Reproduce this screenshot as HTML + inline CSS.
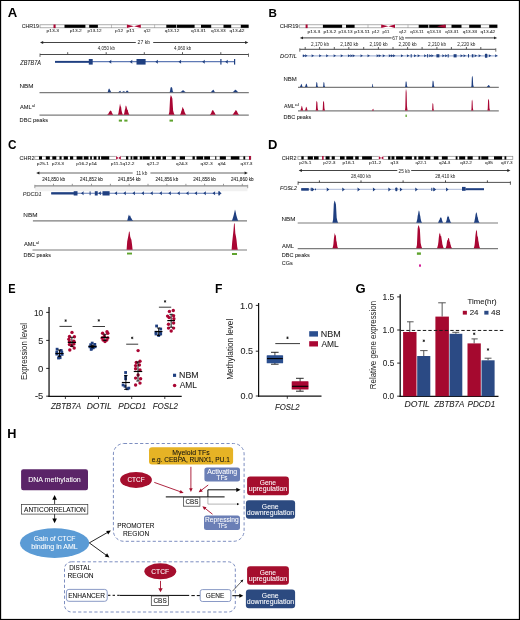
<!DOCTYPE html>
<html><head><meta charset="utf-8"><title>Figure</title>
<style>
html,body{margin:0;padding:0;background:#fff;}
body{width:520px;height:620px;overflow:hidden;font-family:"Liberation Sans",sans-serif;}
svg{display:block;will-change:transform;}
</style></head><body>
<svg width="520" height="620" viewBox="0 0 520 620" font-family="Liberation Sans, sans-serif">
<rect x="0" y="0" width="520" height="620" fill="#fff" />
<text x="7.67" y="17.3" font-size="12.61" font-weight="bold" textLength="9.49" lengthAdjust="spacingAndGlyphs" >A</text>
<text x="21.63" y="28.1" font-size="5.6" fill="#222" textLength="17.4" lengthAdjust="spacingAndGlyphs"  stroke="#222" stroke-width="0.07">CHR19</text>
<rect x="40" y="24.8" width="208.5" height="3" fill="#fff" stroke="#8a8a8a" stroke-width="0.7"/>
<rect x="64.5" y="24.8" width="20.9" height="3" fill="#000" />
<rect x="89.2" y="24.8" width="8.7" height="3" fill="#000" />
<rect x="166.3" y="24.8" width="9.7" height="3" fill="#000" />
<rect x="176.7" y="24.8" width="17.9" height="3" fill="#000" />
<rect x="201" y="24.8" width="10.2" height="3" fill="#000" />
<rect x="223.5" y="24.8" width="7.7" height="3" fill="#000" />
<rect x="240.8" y="24.8" width="7.7" height="3" fill="#000" />
<rect x="53.5" y="24.5" width="2.1" height="3.6" fill="#a90633" />
<line x1="111.5" y1="24.8" x2="111.5" y2="27.8" stroke="#666" stroke-width="0.4" />
<line x1="154.6" y1="24.8" x2="154.6" y2="27.8" stroke="#666" stroke-width="0.4" />
<rect x="126.6" y="24.6" width="14.5" height="3.4" fill="#fff" />
<polygon points="126.9,24.6 134,26.3 126.9,28" fill="#a90633" />
<polygon points="140.8,24.6 134,26.3 140.8,28" fill="#a90633" />
<text x="46.58" y="32.2" font-size="4.4" fill="#333" textLength="12.43" lengthAdjust="spacingAndGlyphs" stroke="#333" stroke-width="0.08">p13.3</text>
<text x="69.69" y="32.2" font-size="4.4" fill="#333" textLength="12.07" lengthAdjust="spacingAndGlyphs" stroke="#333" stroke-width="0.08">p13.2</text>
<text x="87.6" y="32.2" font-size="4.4" fill="#333" textLength="13.92" lengthAdjust="spacingAndGlyphs" stroke="#333" stroke-width="0.08">p13.12</text>
<text x="115.09" y="32.2" font-size="4.4" fill="#333" textLength="8.07" lengthAdjust="spacingAndGlyphs" stroke="#333" stroke-width="0.08">p12</text>
<text x="126.57" y="32.2" font-size="4.4" fill="#333" textLength="8.05" lengthAdjust="spacingAndGlyphs" stroke="#333" stroke-width="0.08">p11</text>
<text x="143.84" y="32.2" font-size="4.4" fill="#333" textLength="6.78" lengthAdjust="spacingAndGlyphs" stroke="#333" stroke-width="0.08">q12</text>
<text x="164.81" y="32.2" font-size="4.4" fill="#333" textLength="14.62" lengthAdjust="spacingAndGlyphs" stroke="#333" stroke-width="0.08">q13.12</text>
<text x="191.11" y="32.2" font-size="4.4" fill="#333" textLength="14.91" lengthAdjust="spacingAndGlyphs" stroke="#333" stroke-width="0.08">q13.31</text>
<text x="211.01" y="32.2" font-size="4.4" fill="#333" textLength="14.57" lengthAdjust="spacingAndGlyphs" stroke="#333" stroke-width="0.08">q13.33</text>
<text x="229.61" y="32.2" font-size="4.4" fill="#333" textLength="14.83" lengthAdjust="spacingAndGlyphs" stroke="#333" stroke-width="0.08">q13.42</text>
<line x1="42.5" y1="42.5" x2="135.8" y2="42.5" stroke="#222" stroke-width="0.85" />
<line x1="153.2" y1="42.5" x2="245.8" y2="42.5" stroke="#222" stroke-width="0.85" />
<polygon points="40,42.5 43.2,41.1 43.2,43.9" fill="#222" />
<polygon points="248.3,42.5 245.1,41.1 245.1,43.9" fill="#222" />
<text x="137.64" y="44.3" font-size="4.8" fill="#222" textLength="12.57" lengthAdjust="spacingAndGlyphs" >27 kb</text>
<line x1="40" y1="54.5" x2="248.5" y2="54.5" stroke="#4a4a4a" stroke-width="1" />
<line x1="40" y1="53.5" x2="40" y2="56.9" stroke="#4a4a4a" stroke-width="0.8" />
<line x1="248.5" y1="53.5" x2="248.5" y2="56.9" stroke="#4a4a4a" stroke-width="0.8" />
<line x1="67.7" y1="52.2" x2="67.7" y2="54.5" stroke="#4a4a4a" stroke-width="0.9" />
<line x1="106.2" y1="52.2" x2="106.2" y2="54.5" stroke="#4a4a4a" stroke-width="0.9" />
<line x1="144.3" y1="52.2" x2="144.3" y2="54.5" stroke="#4a4a4a" stroke-width="0.9" />
<line x1="182.5" y1="52.2" x2="182.5" y2="54.5" stroke="#4a4a4a" stroke-width="0.9" />
<line x1="220.8" y1="52.2" x2="220.8" y2="54.5" stroke="#4a4a4a" stroke-width="0.9" />
<text x="97.66" y="50.3" font-size="4.7" fill="#222" textLength="17.28" lengthAdjust="spacingAndGlyphs" >4,050 kb</text>
<text x="174.01" y="50.3" font-size="4.7" fill="#222" textLength="17.28" lengthAdjust="spacingAndGlyphs" >4,060 kb</text>
<text x="20.31" y="64.8" font-size="6.5" fill="#222" font-style="italic" textLength="20.59" lengthAdjust="spacingAndGlyphs"  stroke="#222" stroke-width="0.07">ZBTB7A</text>
<line x1="55" y1="61.6" x2="234.8" y2="61.6" stroke="#5f7ab5" stroke-width="1.15" />
<rect x="55" y="60.9" width="34" height="1.9" fill="#1f3f80" />
<rect x="88.8" y="59" width="3.9" height="5.6" fill="#1f3f80" />
<rect x="136.5" y="59" width="9.1" height="5.6" fill="#1f3f80" />
<rect x="220.3" y="59" width="1.2" height="5.6" fill="#1f3f80" />
<rect x="234" y="59" width="1.2" height="5.6" fill="#1f3f80" />
<polygon points="108.65,61.8 111.35,59.8 111.15,61.8 111.35,63.8" fill="#1f3f80" />
<polygon points="129.65,61.8 132.35,59.8 132.15,61.8 132.35,63.8" fill="#1f3f80" />
<polygon points="155.25,61.8 157.95,59.8 157.75,61.8 157.95,63.8" fill="#1f3f80" />
<polygon points="178.45,61.8 181.15,59.8 180.95,61.8 181.15,63.8" fill="#1f3f80" />
<polygon points="202.15,61.8 204.85,59.8 204.65,61.8 204.85,63.8" fill="#1f3f80" />
<polygon points="225.15,61.8 227.85,59.8 227.65,61.8 227.85,63.8" fill="#1f3f80" />
<text x="19.5" y="87.5" font-size="6.1" fill="#222" textLength="14.02" lengthAdjust="spacingAndGlyphs"  stroke="#222" stroke-width="0.07">NBM</text>
<line x1="39.5" y1="92.6" x2="248.8" y2="92.6" stroke="#7c7c7c" stroke-width="1.2" />
<polygon points="107.3,92.3 107.3,92.3 107.65,91.96 108,91.22 108.35,89.81 108.7,89.09 109.05,88.6 109.4,88.69 109.75,89.58 110.1,89.94 110.45,90.73 110.8,91.52 111.15,92.09 111.5,92.3 111.5,92.3" fill="#1f3f80" />
<polygon points="118,92.3 118,92.3 118.35,92.1 118.7,91.92 119.05,91.48 119.4,91.16 119.75,91.19 120.1,90.8 120.45,91.11 120.8,91.64 121.15,92 121.5,92.3 121.5,92.3" fill="#1f3f80" />
<polygon points="121.5,92.3 121.5,92.3 121.86,92.14 122.23,92 122.59,91.7 122.95,91.56 123.32,91.31 123.68,91.2 124.05,91.36 124.41,91.47 124.77,91.8 125.14,92.03 125.5,92.3 125.5,92.3" fill="#1f3f80" />
<polygon points="125.2,92.3 125.2,92.3 125.56,92.02 125.92,91.69 126.28,91.31 126.64,90.8 127,90.6 127.36,90.69 127.72,90.7 128.08,91.33 128.44,91.87 128.8,92.3 128.8,92.3" fill="#1f3f80" />
<polygon points="169.4,92.3 169.4,92.3 169.96,91.56 170.53,87.8 171.09,87 171.65,87.37 172.21,87.95 172.78,91.13 173.34,91.88 173.9,92.3 173.9,92.3" fill="#1f3f80" />
<polygon points="179.8,92.3 179.8,92.3 180.15,92.08 180.51,91.98 180.86,91.82 181.21,91.6 181.56,91.43 181.92,90.9 182.27,90.81 182.62,90.37 182.98,90.52 183.33,90.2 183.68,90.43 184.04,91.11 184.39,91.32 184.74,91.45 185.09,91.83 185.45,91.98 185.8,92.3 185.8,92.3" fill="#1f3f80" />
<polygon points="210.6,92.3 210.6,92.3 210.95,91.99 211.31,91.79 211.66,91.29 212.02,90.75 212.37,90.55 212.72,90.33 213.08,89.98 213.43,89.6 213.78,90.18 214.14,91.07 214.49,91.52 214.85,91.92 215.2,92.3 215.2,92.3" fill="#1f3f80" />
<polygon points="232.4,92.3 232.4,92.3 232.76,92.05 233.12,91.75 233.49,91.6 233.85,91.14 234.21,90.8 234.57,90.56 234.94,89.85 235.3,90.08 235.66,89.6 236.03,90.16 236.39,90.26 236.75,90.82 237.11,91.25 237.47,91.49 237.84,91.87 238.2,92.3 238.2,92.3" fill="#1f3f80" />
<text x="20.05" y="109.03" font-size="6.1" fill="#222" textLength="11.63" lengthAdjust="spacingAndGlyphs"  stroke="#222" stroke-width="0.07">AML</text>
<text x="31.71" y="107.4" font-size="3.3" fill="#222" textLength="3.6" lengthAdjust="spacingAndGlyphs" >al</text>
<line x1="39.5" y1="115.1" x2="248.8" y2="115.1" stroke="#7c7c7c" stroke-width="1.2" />
<polygon points="107.3,114.8 107.3,114.8 107.67,114.34 108.04,113.87 108.41,113.63 108.78,112.99 109.14,111.99 109.51,111.47 109.88,111.52 110.25,110 110.62,110.93 110.99,111.08 111.36,111.03 111.72,112.26 112.09,113.06 112.46,113.8 112.83,114.23 113.2,114.8 113.2,114.8" fill="#a90633" />
<polygon points="117.8,114.8 117.8,114.8 118.17,114.04 118.54,112.87 118.91,110.23 119.29,107.97 119.66,105.83 120.03,103.6 120.4,105.56 120.77,106.4 121.14,107.23 121.51,110.34 121.89,112.12 122.26,113.18 122.63,114.23 123,114.8 123,114.8" fill="#a90633" />
<polygon points="123.4,114.8 123.4,114.8 123.76,114.33 124.13,113.63 124.49,111.93 124.86,109.66 125.22,109.04 125.59,105.91 125.95,105.4 126.32,106.28 126.68,107.34 127.05,108.86 127.41,109.9 127.78,109.67 128.14,111.98 128.51,112.87 128.87,113.98 129.24,114.4 129.6,114.8 129.6,114.8" fill="#a90633" />
<polygon points="168.6,114.8 168.6,114.8 169.35,112.03 170.1,97.97 170.85,95 171.6,96.39 172.35,98.56 173.1,110.44 173.85,113.22 174.6,114.8 174.6,114.8" fill="#a90633" />
<polygon points="179.8,114.8 179.8,114.8 180.17,114.38 180.53,113.87 180.9,113 181.27,111.16 181.63,110.56 182,109.16 182.37,107.78 182.73,107 183.1,107.87 183.47,109.13 183.83,108.72 184.2,110.75 184.57,111.91 184.93,112.65 185.3,113.46 185.67,114.21 186.03,114.54 186.4,114.8 186.4,114.8" fill="#a90633" />
<polygon points="209.8,114.8 209.8,114.8 210.17,114.29 210.54,113.88 210.91,113.56 211.28,112.85 211.64,111.7 212.01,110.8 212.38,110.5 212.75,110 213.12,110.03 213.49,110.92 213.86,111.59 214.22,112.33 214.59,112.5 214.96,113.45 215.33,113.98 215.7,114.8 215.7,114.8" fill="#a90633" />
<polygon points="232.3,114.8 232.3,114.8 232.67,114.41 233.03,114.03 233.4,113.69 233.77,113.09 234.13,112.77 234.5,111.62 234.87,111.94 235.23,110.94 235.6,110.35 235.97,110 236.33,110.39 236.7,110.89 237.07,111.48 237.43,112.18 237.8,113.27 238.17,113.71 238.53,114.11 238.9,114.8 238.9,114.8" fill="#a90633" />
<text x="19.55" y="121.9" font-size="6.1" fill="#222" textLength="28.64" lengthAdjust="spacingAndGlyphs"  stroke="#222" stroke-width="0.07">DBC peaks</text>
<rect x="118.8" y="119.6" width="3.2" height="2" fill="#5ea32d" />
<rect x="124.3" y="119.6" width="3.2" height="2" fill="#5ea32d" />
<rect x="169.5" y="119.6" width="3.5" height="2" fill="#5ea32d" />
<text x="268.54" y="16.9" font-size="11.74" font-weight="bold" textLength="8.41" lengthAdjust="spacingAndGlyphs" >B</text>
<text x="279.71" y="28.1" font-size="5.6" fill="#222" textLength="18.84" lengthAdjust="spacingAndGlyphs"  stroke="#222" stroke-width="0.07">CHR19</text>
<rect x="299.2" y="24.8" width="198" height="3" fill="#fff" stroke="#8a8a8a" stroke-width="0.7"/>
<rect x="322.9" y="24.8" width="19.2" height="3" fill="#000" />
<rect x="346" y="24.8" width="8.6" height="3" fill="#000" />
<rect x="418.7" y="24.8" width="9.6" height="3" fill="#000" />
<rect x="429.2" y="24.8" width="16.4" height="3" fill="#000" />
<rect x="451.5" y="24.8" width="10" height="3" fill="#000" />
<rect x="469.2" y="24.8" width="11.6" height="3" fill="#000" />
<rect x="489.2" y="24.8" width="8" height="3" fill="#000" />
<rect x="305.6" y="24.5" width="2" height="3.6" fill="#a90633" />
<line x1="368" y1="24.8" x2="368" y2="27.8" stroke="#666" stroke-width="0.4" />
<line x1="408" y1="24.8" x2="408" y2="27.8" stroke="#666" stroke-width="0.4" />
<rect x="380.9" y="24.6" width="14.4" height="3.4" fill="#fff" />
<polygon points="381.2,24.6 388.4,26.3 381.2,28" fill="#a90633" />
<polygon points="395,24.6 388.4,26.3 395,28" fill="#a90633" />
<polygon points="445.6,24.6 437,26.3 445.6,28" fill="#a90633" />
<text x="307.57" y="32.6" font-size="4.4" fill="#333" textLength="12.64" lengthAdjust="spacingAndGlyphs" stroke="#333" stroke-width="0.08">p13.3</text>
<text x="323.47" y="32.6" font-size="4.4" fill="#333" textLength="12.8" lengthAdjust="spacingAndGlyphs" stroke="#333" stroke-width="0.08">p13.2</text>
<text x="338.5" y="32.6" font-size="4.4" fill="#333" textLength="13.97" lengthAdjust="spacingAndGlyphs" stroke="#333" stroke-width="0.08">p13.13</text>
<text x="354.26" y="32.6" font-size="4.4" fill="#333" textLength="15.78" lengthAdjust="spacingAndGlyphs" stroke="#333" stroke-width="0.08">p13.11</text>
<text x="372.22" y="32.6" font-size="4.4" fill="#333" textLength="7.21" lengthAdjust="spacingAndGlyphs" stroke="#333" stroke-width="0.08">p12</text>
<text x="382.42" y="32.6" font-size="4.4" fill="#333" textLength="6.98" lengthAdjust="spacingAndGlyphs" stroke="#333" stroke-width="0.08">p11</text>
<text x="399.23" y="32.6" font-size="4.4" fill="#333" textLength="7.2" lengthAdjust="spacingAndGlyphs" stroke="#333" stroke-width="0.08">q12</text>
<text x="410.22" y="32.6" font-size="4.4" fill="#333" textLength="13.48" lengthAdjust="spacingAndGlyphs" stroke="#333" stroke-width="0.08">q13.11</text>
<text x="427.12" y="32.6" font-size="4.4" fill="#333" textLength="13.86" lengthAdjust="spacingAndGlyphs" stroke="#333" stroke-width="0.08">q13.13</text>
<text x="445.22" y="32.6" font-size="4.4" fill="#333" textLength="13.47" lengthAdjust="spacingAndGlyphs" stroke="#333" stroke-width="0.08">q13.31</text>
<text x="462.81" y="32.6" font-size="4.4" fill="#333" textLength="14.37" lengthAdjust="spacingAndGlyphs" stroke="#333" stroke-width="0.08">q13.33</text>
<text x="480.61" y="32.6" font-size="4.4" fill="#333" textLength="14.62" lengthAdjust="spacingAndGlyphs" stroke="#333" stroke-width="0.08">q13.42</text>
<line x1="302.3" y1="37.9" x2="391.6" y2="37.9" stroke="#222" stroke-width="0.85" />
<line x1="405.1" y1="37.9" x2="494.7" y2="37.9" stroke="#222" stroke-width="0.85" />
<polygon points="299.8,37.9 303,36.5 303,39.3" fill="#222" />
<polygon points="497.2,37.9 494,36.5 494,39.3" fill="#222" />
<text x="392.36" y="39.6" font-size="4.7" fill="#222" textLength="11.95" lengthAdjust="spacingAndGlyphs" >67 kb</text>
<line x1="299.8" y1="49.3" x2="495.8" y2="49.3" stroke="#4a4a4a" stroke-width="1" />
<line x1="299.8" y1="48.3" x2="299.8" y2="51.7" stroke="#4a4a4a" stroke-width="0.8" />
<line x1="495.8" y1="48.3" x2="495.8" y2="51.7" stroke="#4a4a4a" stroke-width="0.8" />
<line x1="305.2" y1="47" x2="305.2" y2="49.3" stroke="#4a4a4a" stroke-width="0.9" />
<line x1="319.6" y1="47" x2="319.6" y2="49.3" stroke="#4a4a4a" stroke-width="0.9" />
<line x1="334.3" y1="47" x2="334.3" y2="49.3" stroke="#4a4a4a" stroke-width="0.9" />
<line x1="348.8" y1="47" x2="348.8" y2="49.3" stroke="#4a4a4a" stroke-width="0.9" />
<line x1="363.7" y1="47" x2="363.7" y2="49.3" stroke="#4a4a4a" stroke-width="0.9" />
<line x1="378.4" y1="47" x2="378.4" y2="49.3" stroke="#4a4a4a" stroke-width="0.9" />
<line x1="393" y1="47" x2="393" y2="49.3" stroke="#4a4a4a" stroke-width="0.9" />
<line x1="407.6" y1="47" x2="407.6" y2="49.3" stroke="#4a4a4a" stroke-width="0.9" />
<line x1="422.1" y1="47" x2="422.1" y2="49.3" stroke="#4a4a4a" stroke-width="0.9" />
<line x1="436.9" y1="47" x2="436.9" y2="49.3" stroke="#4a4a4a" stroke-width="0.9" />
<line x1="451.4" y1="47" x2="451.4" y2="49.3" stroke="#4a4a4a" stroke-width="0.9" />
<line x1="466.4" y1="47" x2="466.4" y2="49.3" stroke="#4a4a4a" stroke-width="0.9" />
<line x1="480.8" y1="47" x2="480.8" y2="49.3" stroke="#4a4a4a" stroke-width="0.9" />
<text x="310.97" y="45.7" font-size="4.9" fill="#222" textLength="18.03" lengthAdjust="spacingAndGlyphs" >2,170 kb</text>
<text x="340.37" y="45.7" font-size="4.9" fill="#222" textLength="18.03" lengthAdjust="spacingAndGlyphs" >2,180 kb</text>
<text x="369.57" y="45.7" font-size="4.9" fill="#222" textLength="18.03" lengthAdjust="spacingAndGlyphs" >2,190 kb</text>
<text x="398.57" y="45.7" font-size="4.9" fill="#222" textLength="18.03" lengthAdjust="spacingAndGlyphs" >2,200 kb</text>
<text x="427.97" y="45.7" font-size="4.9" fill="#222" textLength="18.03" lengthAdjust="spacingAndGlyphs" >2,210 kb</text>
<text x="457.37" y="45.7" font-size="4.9" fill="#222" textLength="18.03" lengthAdjust="spacingAndGlyphs" >2,220 kb</text>
<text x="280.03" y="57.8" font-size="6.1" fill="#222" font-style="italic" textLength="16.87" lengthAdjust="spacingAndGlyphs"  stroke="#222" stroke-width="0.07">DOTIL</text>
<line x1="302" y1="55.8" x2="497.7" y2="55.8" stroke="#a3b3d6" stroke-width="1.3" />
<polygon points="305.35,55.8 302.85,54.35 303.05,55.8 302.85,57.25" fill="#1f3f80" />
<polygon points="307.55,55.8 305.05,54.35 305.25,55.8 305.05,57.25" fill="#1f3f80" />
<polygon points="314.05,55.8 311.55,54.35 311.75,55.8 311.55,57.25" fill="#1f3f80" />
<polygon points="321.55,55.8 319.05,54.35 319.25,55.8 319.05,57.25" fill="#1f3f80" />
<polygon points="328.55,55.8 326.05,54.35 326.25,55.8 326.05,57.25" fill="#1f3f80" />
<polygon points="336.05,55.8 333.55,54.35 333.75,55.8 333.55,57.25" fill="#1f3f80" />
<polygon points="343.15,55.8 340.65,54.35 340.85,55.8 340.65,57.25" fill="#1f3f80" />
<polygon points="350.35,55.8 347.85,54.35 348.05,55.8 347.85,57.25" fill="#1f3f80" />
<polygon points="352.85,55.8 350.35,54.35 350.55,55.8 350.35,57.25" fill="#1f3f80" />
<polygon points="355.05,55.8 352.55,54.35 352.75,55.8 352.55,57.25" fill="#1f3f80" />
<polygon points="362.95,55.8 360.45,54.35 360.65,55.8 360.45,57.25" fill="#1f3f80" />
<polygon points="369.95,55.8 367.45,54.35 367.65,55.8 367.45,57.25" fill="#1f3f80" />
<polygon points="379.05,55.8 376.55,54.35 376.75,55.8 376.55,57.25" fill="#1f3f80" />
<polygon points="381.15,55.8 378.65,54.35 378.85,55.8 378.65,57.25" fill="#1f3f80" />
<polygon points="385.15,55.8 382.65,54.35 382.85,55.8 382.65,57.25" fill="#1f3f80" />
<polygon points="391.25,55.8 388.75,54.35 388.95,55.8 388.75,57.25" fill="#1f3f80" />
<polygon points="393.35,55.8 390.85,54.35 391.05,55.8 390.85,57.25" fill="#1f3f80" />
<polygon points="395.45,55.8 392.95,54.35 393.15,55.8 392.95,57.25" fill="#1f3f80" />
<polygon points="403.35,55.8 400.85,54.35 401.05,55.8 400.85,57.25" fill="#1f3f80" />
<polygon points="409.35,55.8 406.85,54.35 407.05,55.8 406.85,57.25" fill="#1f3f80" />
<polygon points="416.45,55.8 413.95,54.35 414.15,55.8 413.95,57.25" fill="#1f3f80" />
<polygon points="420.05,55.8 417.55,54.35 417.75,55.8 417.55,57.25" fill="#1f3f80" />
<polygon points="426.55,55.8 424.05,54.35 424.25,55.8 424.05,57.25" fill="#1f3f80" />
<polygon points="431.65,55.8 429.15,54.35 429.35,55.8 429.15,57.25" fill="#1f3f80" />
<polygon points="433.75,55.8 431.25,54.35 431.45,55.8 431.25,57.25" fill="#1f3f80" />
<polygon points="444.75,55.8 442.25,54.35 442.45,55.8 442.25,57.25" fill="#1f3f80" />
<polygon points="447.55,55.8 445.05,54.35 445.25,55.8 445.05,57.25" fill="#1f3f80" />
<polygon points="462.95,55.8 460.45,54.35 460.65,55.8 460.45,57.25" fill="#1f3f80" />
<polygon points="465.95,55.8 463.45,54.35 463.65,55.8 463.45,57.25" fill="#1f3f80" />
<polygon points="477.05,55.8 474.55,54.35 474.75,55.8 474.55,57.25" fill="#1f3f80" />
<polygon points="481.05,55.8 478.55,54.35 478.75,55.8 478.55,57.25" fill="#1f3f80" />
<polygon points="491.25,55.8 488.75,54.35 488.95,55.8 488.75,57.25" fill="#1f3f80" />
<polygon points="497.55,55.8 495.05,54.35 495.25,55.8 495.05,57.25" fill="#1f3f80" />
<rect x="410.7" y="54.1" width="1" height="3.4" fill="#1f3f80" />
<rect x="427.1" y="54.1" width="1" height="3.4" fill="#1f3f80" />
<rect x="447.7" y="54.1" width="1" height="3.4" fill="#1f3f80" />
<rect x="468" y="54.1" width="1" height="3.4" fill="#1f3f80" />
<rect x="436.4" y="54.2" width="3" height="3.2" fill="#1f3f80" />
<rect x="453.6" y="54.2" width="3" height="3.2" fill="#1f3f80" />
<rect x="471.8" y="54.2" width="1.6" height="3.2" fill="#1f3f80" />
<rect x="484.9" y="53.8" width="2.5" height="4" fill="#1f3f80" rx="0.6"/>
<text x="283.52" y="80.8" font-size="6.1" fill="#222" textLength="13.27" lengthAdjust="spacingAndGlyphs"  stroke="#222" stroke-width="0.07">NBM</text>
<line x1="298" y1="87.3" x2="498.8" y2="87.3" stroke="#7c7c7c" stroke-width="1.2" />
<polygon points="299.9,87 299.9,87 300.29,86.27 300.67,85.48 301.06,84.2 301.44,83.7 301.83,84.76 302.21,86.03 302.6,87 302.6,87" fill="#1f3f80" />
<polygon points="304.9,87 304.9,87 305.29,86.21 305.67,85.01 306.06,83.7 306.44,83.82 306.83,84.16 307.21,85.65 307.6,87 307.6,87" fill="#1f3f80" />
<polygon points="315.7,87 315.7,87 316.01,86.3 316.32,82.75 316.64,82 316.95,82.35 317.26,82.9 317.57,85.9 317.89,86.6 318.2,87 318.2,87" fill="#1f3f80" />
<polygon points="322.9,87 322.9,87 323.19,86.3 323.47,82.75 323.76,82 324.05,82.35 324.34,82.9 324.62,85.9 324.91,86.6 325.2,87 325.2,87" fill="#1f3f80" />
<polygon points="371.9,87 371.9,87 372.09,86.55 372.27,84.28 372.46,83.8 372.65,84.02 372.84,84.38 373.02,86.3 373.21,86.74 373.4,87 373.4,87" fill="#1f3f80" />
<polygon points="405,87 405,87 405.32,86.19 405.65,82.07 405.98,81.2 406.3,81.61 406.62,82.24 406.95,85.72 407.28,86.54 407.6,87 407.6,87" fill="#1f3f80" />
<polygon points="431.9,87 431.9,87 432.24,86.09 432.57,81.47 432.91,80.5 433.25,80.95 433.59,81.67 433.93,85.57 434.26,86.48 434.6,87 434.6,87" fill="#1f3f80" />
<polygon points="471.2,87 471.2,87 471.52,85.42 471.85,77.4 472.18,75.7 472.5,76.49 472.82,77.73 473.15,84.51 473.48,86.1 473.8,87 473.8,87" fill="#1f3f80" />
<polygon points="486.8,87 486.8,87 487.18,86.62 487.56,86.22 487.93,85.79 488.31,85.13 488.69,85 489.07,85.35 489.44,85.83 489.82,86.59 490.2,87 490.2,87" fill="#1f3f80" />
<text x="284" y="108" font-size="6.1" fill="#222" textLength="10.66" lengthAdjust="spacingAndGlyphs"  stroke="#222" stroke-width="0.07">AML</text>
<text x="294.69" y="106.2" font-size="3.3" fill="#222" textLength="4.18" lengthAdjust="spacingAndGlyphs" >al</text>
<line x1="298" y1="110.8" x2="498.8" y2="110.8" stroke="#7c7c7c" stroke-width="1.2" />
<polygon points="300.4,110.5 300.4,110.5 300.79,109.34 301.17,108.34 301.56,106.18 301.94,105.7 302.33,107.23 302.71,108.87 303.1,110.5 303.1,110.5" fill="#a90633" />
<polygon points="304.9,110.5 304.9,110.5 305.29,109.64 305.67,108.39 306.06,106.7 306.44,106.94 306.83,108.09 307.21,109.35 307.6,110.5 307.6,110.5" fill="#a90633" />
<polygon points="315.6,110.5 315.6,110.5 315.95,109.13 316.3,102.17 316.65,100.7 317,101.39 317.35,102.46 317.7,108.34 318.05,109.72 318.4,110.5 318.4,110.5" fill="#a90633" />
<polygon points="322.4,110.5 322.4,110.5 322.74,109.13 323.07,102.17 323.41,100.7 323.75,101.39 324.09,102.46 324.43,108.34 324.76,109.72 325.1,110.5 325.1,110.5" fill="#a90633" />
<polygon points="371.9,110.5 371.9,110.5 372.23,109.99 372.57,109.42 372.9,108.89 373.23,108.7 373.57,109.77 373.9,110.5 373.9,110.5" fill="#a90633" />
<polygon points="405,110.5 405,110.5 405.32,107.45 405.65,91.97 405.98,88.7 406.3,90.23 406.62,92.62 406.95,105.7 407.28,108.76 407.6,110.5 407.6,110.5" fill="#a90633" />
<polygon points="431.9,110.5 431.9,110.5 432.17,109.45 432.45,104.12 432.73,103 433,103.53 433.27,104.35 433.55,108.85 433.83,109.9 434.1,110.5 434.1,110.5" fill="#a90633" />
<polygon points="471.2,110.5 471.2,110.5 471.47,108.96 471.75,101.15 472.02,99.5 472.3,100.27 472.57,101.48 472.85,108.08 473.12,109.62 473.4,110.5 473.4,110.5" fill="#a90633" />
<polygon points="487.4,110.5 487.4,110.5 487.74,108.85 488.07,100.47 488.41,98.7 488.75,99.53 489.09,100.82 489.43,107.9 489.76,109.56 490.1,110.5 490.1,110.5" fill="#a90633" />
<text x="283.56" y="118.5" font-size="6.1" fill="#222" textLength="27.82" lengthAdjust="spacingAndGlyphs"  stroke="#222" stroke-width="0.07">DBC peaks</text>
<rect x="405.5" y="114.6" width="1.3" height="2.4" fill="#5ea32d" />
<text x="8.03" y="149" font-size="13" font-weight="bold" textLength="8.49" lengthAdjust="spacingAndGlyphs" >C</text>
<text x="19.53" y="160.1" font-size="5.6" fill="#222" textLength="14.96" lengthAdjust="spacingAndGlyphs"  stroke="#222" stroke-width="0.07">CHR2</text>
<rect x="34.8" y="156.3" width="216" height="3.2" fill="#fff" stroke="#8a8a8a" stroke-width="0.7"/>
<rect x="39" y="156.3" width="3" height="3.2" fill="#000" />
<rect x="45.8" y="156.3" width="4" height="3.2" fill="#000" />
<rect x="52.3" y="156.3" width="4" height="3.2" fill="#000" />
<rect x="59.5" y="156.3" width="2.1" height="3.2" fill="#000" />
<rect x="63.7" y="156.3" width="4.2" height="3.2" fill="#000" />
<rect x="70" y="156.3" width="3.2" height="3.2" fill="#000" />
<rect x="76.6" y="156.3" width="5.9" height="3.2" fill="#000" />
<rect x="83.8" y="156.3" width="4.7" height="3.2" fill="#000" />
<rect x="90.2" y="156.3" width="1.7" height="3.2" fill="#000" />
<rect x="93.7" y="156.3" width="2.8" height="3.2" fill="#000" />
<rect x="98.3" y="156.3" width="1.7" height="3.2" fill="#000" />
<rect x="101.1" y="156.3" width="8.1" height="3.2" fill="#000" />
<rect x="126" y="156.3" width="2.3" height="3.2" fill="#000" />
<rect x="130.6" y="156.3" width="1.7" height="3.2" fill="#000" />
<rect x="133.4" y="156.3" width="4.1" height="3.2" fill="#000" />
<rect x="139.8" y="156.3" width="2.7" height="3.2" fill="#000" />
<rect x="143" y="156.3" width="6.8" height="3.2" fill="#000" />
<rect x="152.1" y="156.3" width="2.3" height="3.2" fill="#000" />
<rect x="156.1" y="156.3" width="4.7" height="3.2" fill="#000" />
<rect x="162.5" y="156.3" width="3.5" height="3.2" fill="#000" />
<rect x="171.7" y="156.3" width="4.1" height="3.2" fill="#000" />
<rect x="179.8" y="156.3" width="5.2" height="3.2" fill="#000" />
<rect x="192.5" y="156.3" width="2.3" height="3.2" fill="#000" />
<rect x="196.5" y="156.3" width="6.6" height="3.2" fill="#000" />
<rect x="204.2" y="156.3" width="5.8" height="3.2" fill="#000" />
<rect x="215.2" y="156.3" width="1.1" height="3.2" fill="#000" />
<rect x="219.8" y="156.3" width="6.1" height="3.2" fill="#000" />
<rect x="230.8" y="156.3" width="8.6" height="3.2" fill="#000" />
<rect x="243.4" y="156.3" width="1.8" height="3.2" fill="#000" />
<rect x="249" y="156" width="1.9" height="3.8" fill="#a90633" />
<rect x="115.8" y="156.1" width="5.3" height="3.6" fill="#fff" />
<polygon points="116.1,156.1 118.4,157.9 116.1,159.7" fill="#a90633" />
<polygon points="120.8,156.1 118.4,157.9 120.8,159.7" fill="#a90633" />
<text x="36.78" y="165" font-size="4.4" fill="#333" textLength="12.15" lengthAdjust="spacingAndGlyphs" stroke="#333" stroke-width="0.08">p25.1</text>
<text x="51.79" y="165" font-size="4.4" fill="#333" textLength="12.12" lengthAdjust="spacingAndGlyphs" stroke="#333" stroke-width="0.08">p23.3</text>
<text x="76.19" y="165" font-size="4.4" fill="#333" textLength="12.07" lengthAdjust="spacingAndGlyphs" stroke="#333" stroke-width="0.08">p16.2</text>
<text x="88.68" y="165" font-size="4.4" fill="#333" textLength="8.18" lengthAdjust="spacingAndGlyphs" stroke="#333" stroke-width="0.08">p14</text>
<text x="110.89" y="165" font-size="4.4" fill="#333" textLength="23.55" lengthAdjust="spacingAndGlyphs" stroke="#333" stroke-width="0.08">p11.1q12.2</text>
<text x="146.81" y="165" font-size="4.4" fill="#333" textLength="12.15" lengthAdjust="spacingAndGlyphs" stroke="#333" stroke-width="0.08">q21.2</text>
<text x="176.11" y="165" font-size="4.4" fill="#333" textLength="11.58" lengthAdjust="spacingAndGlyphs" stroke="#333" stroke-width="0.08">q24.3</text>
<text x="200.51" y="165" font-size="4.4" fill="#333" textLength="12.1" lengthAdjust="spacingAndGlyphs" stroke="#333" stroke-width="0.08">q32.3</text>
<text x="217.71" y="165" font-size="4.4" fill="#333" textLength="7.85" lengthAdjust="spacingAndGlyphs" stroke="#333" stroke-width="0.08">q34</text>
<text x="240.61" y="165" font-size="4.4" fill="#333" textLength="11.89" lengthAdjust="spacingAndGlyphs" stroke="#333" stroke-width="0.08">q37.3</text>
<line x1="38.7" y1="173" x2="132.7" y2="173" stroke="#999" stroke-width="1.3" />
<line x1="150.4" y1="173" x2="245.3" y2="173" stroke="#999" stroke-width="1.3" />
<polygon points="36.2,173 39.4,171.6 39.4,174.4" fill="#222" />
<polygon points="247.8,173 244.6,171.6 244.6,174.4" fill="#222" />
<text x="136.15" y="174.6" font-size="4.8" fill="#222" textLength="11.15" lengthAdjust="spacingAndGlyphs" >11 kb</text>
<rect x="35" y="186.2" width="212.4" height="5" fill="#f1f1f1" />
<line x1="34.8" y1="185.8" x2="247.7" y2="185.8" stroke="#8a8a8a" stroke-width="1.2" />
<line x1="34.8" y1="184.8" x2="34.8" y2="188.2" stroke="#8a8a8a" stroke-width="0.8" />
<line x1="247.7" y1="184.8" x2="247.7" y2="188.2" stroke="#8a8a8a" stroke-width="0.8" />
<line x1="53.5" y1="183.8" x2="53.5" y2="185.8" stroke="#8a8a8a" stroke-width="0.9" />
<line x1="72.3" y1="183.8" x2="72.3" y2="185.8" stroke="#8a8a8a" stroke-width="0.9" />
<line x1="91.5" y1="183.8" x2="91.5" y2="185.8" stroke="#8a8a8a" stroke-width="0.9" />
<line x1="110.4" y1="183.8" x2="110.4" y2="185.8" stroke="#8a8a8a" stroke-width="0.9" />
<line x1="129.2" y1="183.8" x2="129.2" y2="185.8" stroke="#8a8a8a" stroke-width="0.9" />
<line x1="148" y1="183.8" x2="148" y2="185.8" stroke="#8a8a8a" stroke-width="0.9" />
<line x1="166.9" y1="183.8" x2="166.9" y2="185.8" stroke="#8a8a8a" stroke-width="0.9" />
<line x1="185.9" y1="183.8" x2="185.9" y2="185.8" stroke="#8a8a8a" stroke-width="0.9" />
<line x1="204.6" y1="183.8" x2="204.6" y2="185.8" stroke="#8a8a8a" stroke-width="0.9" />
<line x1="223.5" y1="183.8" x2="223.5" y2="185.8" stroke="#8a8a8a" stroke-width="0.9" />
<line x1="242.3" y1="183.8" x2="242.3" y2="185.8" stroke="#8a8a8a" stroke-width="0.9" />
<text x="42.32" y="180.8" font-size="5" fill="#222" textLength="22.71" lengthAdjust="spacingAndGlyphs"  stroke="#222" stroke-width="0.07">241,850 kb</text>
<text x="80.12" y="180.8" font-size="5" fill="#222" textLength="22.71" lengthAdjust="spacingAndGlyphs"  stroke="#222" stroke-width="0.07">241,852 kb</text>
<text x="117.92" y="180.8" font-size="5" fill="#222" textLength="22.71" lengthAdjust="spacingAndGlyphs"  stroke="#222" stroke-width="0.07">241,854 kb</text>
<text x="155.52" y="180.8" font-size="5" fill="#222" textLength="22.71" lengthAdjust="spacingAndGlyphs"  stroke="#222" stroke-width="0.07">241,856 kb</text>
<text x="193.22" y="180.8" font-size="5" fill="#222" textLength="22.71" lengthAdjust="spacingAndGlyphs"  stroke="#222" stroke-width="0.07">241,858 kb</text>
<text x="230.92" y="180.8" font-size="5" fill="#222" textLength="22.71" lengthAdjust="spacingAndGlyphs"  stroke="#222" stroke-width="0.07">241,860 kb</text>
<text x="22.83" y="195.7" font-size="5.4" fill="#333" font-style="italic" textLength="18.73" lengthAdjust="spacingAndGlyphs"  stroke="#333" stroke-width="0.07">PDCD1</text>
<line x1="51.2" y1="193.3" x2="220" y2="193.3" stroke="#5f7ab5" stroke-width="1.1" />
<rect x="51.2" y="192.2" width="22.8" height="2.3" fill="#1f3f80" />
<rect x="73.7" y="191.2" width="3.8" height="4.3" fill="#1f3f80" />
<rect x="89.6" y="191.4" width="1" height="3.8" fill="#1f3f80" />
<rect x="94.8" y="191.2" width="2.9" height="4.3" fill="#1f3f80" />
<rect x="102.5" y="191.2" width="7.1" height="4.3" fill="#1f3f80" />
<polygon points="80.95,193.3 83.65,191.3 83.45,193.3 83.65,195.3" fill="#1f3f80" />
<polygon points="98.25,193.3 100.95,191.3 100.75,193.3 100.95,195.3" fill="#1f3f80" />
<polygon points="114.45,193.3 117.15,191.3 116.95,193.3 117.15,195.3" fill="#1f3f80" />
<polygon points="123.25,193.3 125.95,191.3 125.75,193.3 125.95,195.3" fill="#1f3f80" />
<polygon points="132.35,193.3 135.05,191.3 134.85,193.3 135.05,195.3" fill="#1f3f80" />
<polygon points="141.35,193.3 144.05,191.3 143.85,193.3 144.05,195.3" fill="#1f3f80" />
<polygon points="150.15,193.3 152.85,191.3 152.65,193.3 152.85,195.3" fill="#1f3f80" />
<polygon points="159.25,193.3 161.95,191.3 161.75,193.3 161.95,195.3" fill="#1f3f80" />
<polygon points="168.25,193.3 170.95,191.3 170.75,193.3 170.95,195.3" fill="#1f3f80" />
<polygon points="177.15,193.3 179.85,191.3 179.65,193.3 179.85,195.3" fill="#1f3f80" />
<polygon points="185.95,193.3 188.65,191.3 188.45,193.3 188.65,195.3" fill="#1f3f80" />
<polygon points="194.45,193.3 197.15,191.3 196.95,193.3 197.15,195.3" fill="#1f3f80" />
<polygon points="203.25,193.3 205.95,191.3 205.75,193.3 205.95,195.3" fill="#1f3f80" />
<polygon points="212.45,193.3 215.15,191.3 214.95,193.3 215.15,195.3" fill="#1f3f80" />
<polygon points="218.8,191.2 221.6,193.3 218.8,195.4" fill="#1f3f80" />
<rect x="218.4" y="191.2" width="1.2" height="4.2" fill="#1f3f80" />
<text x="23.39" y="216.7" font-size="6.1" fill="#222" textLength="14.13" lengthAdjust="spacingAndGlyphs"  stroke="#222" stroke-width="0.07">NBM</text>
<line x1="32.9" y1="220.95" x2="247" y2="220.95" stroke="#7c7c7c" stroke-width="1.2" />
<polygon points="127.2,220.7 127.2,220.7 127.8,218.53 128.4,216.05 129,214.5 129.6,216.36 130.2,215.43 130.8,217.6 131.4,218.22 132,219.46 132.6,220.2 133.2,220.7 133.2,220.7" fill="#1f3f80" />
<polygon points="231.8,220.7 231.8,220.7 232.44,219.36 233.08,217.34 233.72,215.1 234.36,212.3 235,209.5 235.64,211.74 236.28,215.1 236.92,217.34 237.56,219.36 238.2,220.7 238.2,220.7" fill="#1f3f80" />
<text x="23.9" y="245.5" font-size="6.1" fill="#222" textLength="11.98" lengthAdjust="spacingAndGlyphs"  stroke="#222" stroke-width="0.07">AML</text>
<text x="35.71" y="243.7" font-size="3.3" fill="#222" textLength="3.6" lengthAdjust="spacingAndGlyphs" >al</text>
<line x1="32.5" y1="250" x2="247" y2="250" stroke="#7c7c7c" stroke-width="1.2" />
<polygon points="126.6,249.7 126.6,249.7 127.2,241.51 127.8,238.42 128.4,235.5 129,231.86 129.6,231.5 130.2,236.6 130.8,238.42 131.4,239.69 132,244.24 132.6,249.7 132.6,249.7" fill="#a90633" />
<polygon points="231.6,249.7 231.6,249.7 232.22,241.69 232.84,236.35 233.46,230.48 234.08,223 234.7,224.07 235.32,233.15 235.94,236.35 236.56,240.35 237.18,246.5 237.8,249.7 237.8,249.7" fill="#a90633" />
<text x="23.46" y="257.2" font-size="6.1" fill="#222" textLength="27.62" lengthAdjust="spacingAndGlyphs"  stroke="#222" stroke-width="0.07">DBC peaks</text>
<rect x="127" y="252.6" width="5" height="1.9" fill="#5ea32d" />
<rect x="232" y="253" width="5" height="2" fill="#5ea32d" />
<text x="267.95" y="148.9" font-size="12.9" font-weight="bold" textLength="9.39" lengthAdjust="spacingAndGlyphs" >D</text>
<text x="281.63" y="160.1" font-size="5.6" fill="#222" textLength="14.86" lengthAdjust="spacingAndGlyphs"  stroke="#222" stroke-width="0.07">CHR2</text>
<rect x="297.9" y="156.3" width="214.9" height="3.2" fill="#fff" stroke="#8a8a8a" stroke-width="0.7"/>
<rect x="301.3" y="156.3" width="2.4" height="3.2" fill="#000" />
<rect x="307.7" y="156.3" width="5.2" height="3.2" fill="#000" />
<rect x="314" y="156.3" width="4.6" height="3.2" fill="#000" />
<rect x="325.6" y="156.3" width="4" height="3.2" fill="#000" />
<rect x="331.7" y="156.3" width="3.1" height="3.2" fill="#000" />
<rect x="340" y="156.3" width="4.6" height="3.2" fill="#000" />
<rect x="346.3" y="156.3" width="6.9" height="3.2" fill="#000" />
<rect x="355.2" y="156.3" width="3.5" height="3.2" fill="#000" />
<rect x="362.1" y="156.3" width="9.8" height="3.2" fill="#000" />
<rect x="388.1" y="156.3" width="2.3" height="3.2" fill="#000" />
<rect x="391.5" y="156.3" width="2.9" height="3.2" fill="#000" />
<rect x="396.1" y="156.3" width="7" height="3.2" fill="#000" />
<rect x="405.4" y="156.3" width="6.5" height="3.2" fill="#000" />
<rect x="414.2" y="156.3" width="2.3" height="3.2" fill="#000" />
<rect x="418.3" y="156.3" width="5.2" height="3.2" fill="#000" />
<rect x="425.2" y="156.3" width="5.2" height="3.2" fill="#000" />
<rect x="433.8" y="156.3" width="4.6" height="3.2" fill="#000" />
<rect x="441.9" y="156.3" width="5.8" height="3.2" fill="#000" />
<rect x="455.7" y="156.3" width="1.8" height="3.2" fill="#000" />
<rect x="459.2" y="156.3" width="6" height="3.2" fill="#000" />
<rect x="467.5" y="156.3" width="5.2" height="3.2" fill="#000" />
<rect x="478.5" y="156.3" width="1.8" height="3.2" fill="#000" />
<rect x="481.3" y="156.3" width="7" height="3.2" fill="#000" />
<rect x="494" y="156.3" width="8.1" height="3.2" fill="#000" />
<rect x="504.5" y="156.3" width="1.8" height="3.2" fill="#000" />
<rect x="322.1" y="156" width="1.5" height="3.8" fill="#a90633" />
<rect x="378.5" y="156.1" width="5.2" height="3.6" fill="#fff" />
<polygon points="378.8,156.1 381.1,157.9 378.8,159.7" fill="#a90633" />
<polygon points="383.4,156.1 381.1,157.9 383.4,159.7" fill="#a90633" />
<text x="299.28" y="164.3" font-size="4.4" fill="#333" textLength="12.15" lengthAdjust="spacingAndGlyphs" stroke="#333" stroke-width="0.08">p25.1</text>
<text x="323.39" y="164.3" font-size="4.4" fill="#333" textLength="12.02" lengthAdjust="spacingAndGlyphs" stroke="#333" stroke-width="0.08">p22.3</text>
<text x="342.59" y="164.3" font-size="4.4" fill="#333" textLength="12.04" lengthAdjust="spacingAndGlyphs" stroke="#333" stroke-width="0.08">p16.1</text>
<text x="369.07" y="164.3" font-size="4.4" fill="#333" textLength="12.19" lengthAdjust="spacingAndGlyphs" stroke="#333" stroke-width="0.08">p11.2</text>
<text x="390.41" y="164.3" font-size="4.4" fill="#333" textLength="8.11" lengthAdjust="spacingAndGlyphs" stroke="#333" stroke-width="0.08">q13</text>
<text x="415.42" y="164.3" font-size="4.4" fill="#333" textLength="10.98" lengthAdjust="spacingAndGlyphs" stroke="#333" stroke-width="0.08">q22.1</text>
<text x="439.02" y="164.3" font-size="4.4" fill="#333" textLength="11.38" lengthAdjust="spacingAndGlyphs" stroke="#333" stroke-width="0.08">q24.3</text>
<text x="460.32" y="164.3" font-size="4.4" fill="#333" textLength="11.53" lengthAdjust="spacingAndGlyphs" stroke="#333" stroke-width="0.08">q32.2</text>
<text x="485.01" y="164.3" font-size="4.4" fill="#333" textLength="8" lengthAdjust="spacingAndGlyphs" stroke="#333" stroke-width="0.08">q35</text>
<text x="501.01" y="164.3" font-size="4.4" fill="#333" textLength="11.58" lengthAdjust="spacingAndGlyphs" stroke="#333" stroke-width="0.08">q37.3</text>
<line x1="301.2" y1="170.5" x2="397.3" y2="170.5" stroke="#222" stroke-width="0.85" />
<line x1="411.2" y1="170.5" x2="508" y2="170.5" stroke="#222" stroke-width="0.85" />
<polygon points="298.7,170.5 301.9,169.1 301.9,171.9" fill="#222" />
<polygon points="510.5,170.5 507.3,169.1 507.3,171.9" fill="#222" />
<text x="398.57" y="172.5" font-size="4.8" fill="#222" textLength="11.43" lengthAdjust="spacingAndGlyphs" >25 kb</text>
<line x1="298.1" y1="182.4" x2="510.4" y2="182.4" stroke="#333" stroke-width="0.85" />
<line x1="298.1" y1="181.4" x2="298.1" y2="184.8" stroke="#333" stroke-width="0.8" />
<line x1="510.4" y1="181.4" x2="510.4" y2="184.8" stroke="#333" stroke-width="0.8" />
<line x1="319.4" y1="180.4" x2="319.4" y2="182.4" stroke="#333" stroke-width="0.9" />
<line x1="361" y1="180.4" x2="361" y2="182.4" stroke="#333" stroke-width="0.9" />
<line x1="403.1" y1="180.4" x2="403.1" y2="182.4" stroke="#333" stroke-width="0.9" />
<line x1="445.5" y1="180.4" x2="445.5" y2="182.4" stroke="#333" stroke-width="0.9" />
<line x1="487.4" y1="180.4" x2="487.4" y2="182.4" stroke="#333" stroke-width="0.9" />
<text x="350.97" y="178.3" font-size="4.8" fill="#222" textLength="20.02" lengthAdjust="spacingAndGlyphs" >28,400 kb</text>
<text x="435.27" y="178.3" font-size="4.8" fill="#222" textLength="20.02" lengthAdjust="spacingAndGlyphs" >28,410 kb</text>
<text x="280.04" y="190.1" font-size="6.1" fill="#222" font-style="italic" textLength="16.96" lengthAdjust="spacingAndGlyphs"  stroke="#222" stroke-width="0.07">FOSL2</text>
<line x1="301.2" y1="189.3" x2="484" y2="189.3" stroke="#aab8d8" stroke-width="1" />
<rect x="301.2" y="188.1" width="7.6" height="2.6" fill="#1f3f80" />
<rect x="310.7" y="187.8" width="1.1" height="3.2" fill="#1f3f80" />
<polygon points="314.55,189.4 311.85,187.4 312.05,189.4 311.85,191.4" fill="#1f3f80" />
<rect x="315" y="188.6" width="1" height="1.6" fill="#1f3f80" />
<polygon points="329.35,189.4 326.65,187.4 326.85,189.4 326.65,191.4" fill="#1f3f80" />
<polygon points="344.85,189.4 342.15,187.4 342.35,189.4 342.15,191.4" fill="#1f3f80" />
<polygon points="360.15,189.4 357.45,187.4 357.65,189.4 357.45,191.4" fill="#1f3f80" />
<polygon points="375.55,189.4 372.85,187.4 373.05,189.4 372.85,191.4" fill="#1f3f80" />
<polygon points="390.95,189.4 388.25,187.4 388.45,189.4 388.25,191.4" fill="#1f3f80" />
<polygon points="402.55,189.4 399.85,187.4 400.05,189.4 399.85,191.4" fill="#1f3f80" />
<polygon points="417.85,189.4 415.15,187.4 415.35,189.4 415.15,191.4" fill="#1f3f80" />
<polygon points="436.15,189.4 433.45,187.4 433.65,189.4 433.45,191.4" fill="#1f3f80" />
<polygon points="448.65,189.4 445.95,187.4 446.15,189.4 445.95,191.4" fill="#1f3f80" />
<rect x="395.3" y="187.5" width="2.1" height="3.8" fill="#1f3f80" rx="0.8"/>
<rect x="431.3" y="187.8" width="1" height="3.2" fill="#1f3f80" />
<rect x="433.3" y="187.8" width="0.9" height="3.2" fill="#1f3f80" />
<rect x="462" y="186.9" width="3.6" height="3.9" fill="#1f3f80" />
<rect x="465.5" y="188.2" width="18.5" height="2" fill="#1f3f80" />
<text x="281.6" y="221.2" font-size="6.1" fill="#222" textLength="13.92" lengthAdjust="spacingAndGlyphs"  stroke="#222" stroke-width="0.07">NBM</text>
<line x1="297.7" y1="223" x2="498" y2="223" stroke="#7c7c7c" stroke-width="1.2" />
<polygon points="332.4,222.7 332.4,222.7 333.11,219.59 333.82,203.83 334.54,200.5 335.25,202.05 335.96,204.5 336.68,217.82 337.39,220.92 338.1,222.7 338.1,222.7" fill="#1f3f80" />
<polygon points="416.2,222.7 416.2,222.7 416.57,221.99 416.94,220.56 417.31,218.97 417.68,215.75 418.04,214.47 418.41,212.23 418.78,210.5 419.15,210.72 419.52,212.02 419.89,214.84 420.26,216.06 420.62,218.44 420.99,220.33 421.36,221.4 421.73,222.13 422.1,222.7 422.1,222.7" fill="#1f3f80" />
<polygon points="438,222.7 438,222.7 438.36,221.91 438.71,221.34 439.07,220.35 439.43,219.9 439.79,219.09 440.14,217.81 440.5,217.51 440.86,217.5 441.21,217.6 441.57,218.29 441.93,219.73 442.29,220.99 442.64,221.63 443,222.7 443,222.7" fill="#1f3f80" />
<polygon points="445.4,222.7 445.4,222.7 445.75,222.22 446.11,221.67 446.46,220.84 446.81,219.62 447.16,216.95 447.52,217.36 447.87,215.5 448.22,215.9 448.58,216.91 448.93,216.71 449.28,218.78 449.64,219.52 449.99,220.26 450.34,221.46 450.69,221.91 451.05,222.43 451.4,222.7 451.4,222.7" fill="#1f3f80" />
<polygon points="473.7,222.7 473.7,222.7 474.07,222.16 474.44,221.34 474.81,219.26 475.18,217.28 475.54,214.77 475.91,213.31 476.28,212.5 476.65,212.56 477.02,214.27 477.39,216.53 477.76,217.34 478.12,219.31 478.49,220.81 478.86,221.62 479.23,222.24 479.6,222.7 479.6,222.7" fill="#1f3f80" />
<text x="282.1" y="247.7" font-size="6.1" fill="#222" textLength="11.88" lengthAdjust="spacingAndGlyphs"  stroke="#222" stroke-width="0.07">AML</text>
<line x1="297.7" y1="248.6" x2="498" y2="248.6" stroke="#7c7c7c" stroke-width="1.2" />
<polygon points="332.4,248.2 332.4,248.2 332.76,247.37 333.11,245.97 333.47,243.46 333.82,239.33 334.18,236.61 334.54,234.16 334.89,233 335.25,235.28 335.61,235.03 335.96,236.54 336.32,241.1 336.68,241.69 337.03,244.57 337.39,246.75 337.74,247.56 338.1,248.2 338.1,248.2" fill="#a90633" />
<polygon points="416.2,248.2 416.2,248.2 416.94,244.95 417.68,228.48 418.41,225 419.15,226.62 419.89,229.18 420.62,243.1 421.36,246.34 422.1,248.2 422.1,248.2" fill="#a90633" />
<polygon points="437,248.2 437,248.2 437.36,247.37 437.72,246.08 438.07,244.62 438.43,241.72 438.79,237.77 439.15,235.1 439.51,232.5 439.86,233.95 440.22,233.4 440.58,236.25 440.94,235.43 441.29,236.77 441.65,239.3 442.01,241.34 442.37,244.29 442.73,245.34 443.08,246.71 443.44,247.55 443.8,248.2 443.8,248.2" fill="#a90633" />
<polygon points="445.4,248.2 445.4,248.2 445.75,247.63 446.11,246.75 446.46,245.7 446.81,243.1 447.16,240.84 447.52,240.11 447.87,239.73 448.22,238.15 448.57,238 448.93,238.01 449.28,239.76 449.63,241.94 449.98,241.55 450.34,244.28 450.69,244.85 451.04,246.59 451.39,247.33 451.75,247.76 452.1,248.2 452.1,248.2" fill="#a90633" />
<polygon points="473.7,248.2 473.7,248.2 474.06,247.34 474.41,246.11 474.77,243.41 475.12,239.53 475.48,235.24 475.83,232.64 476.19,229.5 476.54,231.59 476.9,230.04 477.26,235.62 477.61,236.59 477.97,237.49 478.32,240.63 478.68,242.29 479.03,244.82 479.39,246.57 479.74,247.44 480.1,248.2 480.1,248.2" fill="#a90633" />
<text x="281.66" y="256.7" font-size="6.1" fill="#222" textLength="28.13" lengthAdjust="spacingAndGlyphs"  stroke="#222" stroke-width="0.07">DBC peaks</text>
<text x="281.83" y="264.8" font-size="6.1" fill="#222" textLength="10.97" lengthAdjust="spacingAndGlyphs"  stroke="#222" stroke-width="0.07">CGs</text>
<rect x="416.9" y="252.4" width="4" height="2.4" fill="#5ea32d" />
<rect x="419" y="264.2" width="2" height="2.7" fill="#d41f98" rx="0.8"/>
<text x="8.19" y="292.9" font-size="12.9" font-weight="bold" textLength="7.32" lengthAdjust="spacingAndGlyphs" >E</text>
<line x1="49.05" y1="307.1" x2="49.05" y2="397" stroke="#111" stroke-width="1.25" />
<line x1="48.5" y1="396.4" x2="181.7" y2="396.4" stroke="#111" stroke-width="1.2" />
<line x1="46.2" y1="312.4" x2="49.2" y2="312.4" stroke="#111" stroke-width="0.9" />
<text x="33.98" y="315.6" font-size="9.2" fill="#222" textLength="9.23" lengthAdjust="spacingAndGlyphs"  stroke="#222" stroke-width="0.07">10</text>
<line x1="46.2" y1="340.4" x2="49.2" y2="340.4" stroke="#111" stroke-width="0.9" />
<text x="38.24" y="343.6" font-size="9.2" fill="#222" textLength="5.03" lengthAdjust="spacingAndGlyphs"  stroke="#222" stroke-width="0.07">5</text>
<line x1="46.2" y1="368.4" x2="49.2" y2="368.4" stroke="#111" stroke-width="0.9" />
<text x="37.92" y="371.6" font-size="9.2" fill="#222" textLength="5.33" lengthAdjust="spacingAndGlyphs"  stroke="#222" stroke-width="0.07">0</text>
<line x1="46.2" y1="396.2" x2="49.2" y2="396.2" stroke="#111" stroke-width="0.9" />
<text x="34.98" y="399.4" font-size="9.2" fill="#222" textLength="8.28" lengthAdjust="spacingAndGlyphs"  stroke="#222" stroke-width="0.07">-5</text>
<line x1="65.4" y1="396.2" x2="65.4" y2="399" stroke="#111" stroke-width="0.8" />
<line x1="98.5" y1="396.2" x2="98.5" y2="399" stroke="#111" stroke-width="0.8" />
<line x1="131.7" y1="396.2" x2="131.7" y2="399" stroke="#111" stroke-width="0.8" />
<line x1="164.8" y1="396.2" x2="164.8" y2="399" stroke="#111" stroke-width="0.8" />
<text x="50.96" y="409.3" font-size="8.6" fill="#222" font-style="italic" textLength="30.27" lengthAdjust="spacingAndGlyphs"  stroke="#222" stroke-width="0.07">ZBTB7A</text>
<text x="86.64" y="409.3" font-size="8.6" fill="#222" font-style="italic" textLength="25.05" lengthAdjust="spacingAndGlyphs"  stroke="#222" stroke-width="0.07">DOTIL</text>
<text x="118.25" y="409.3" font-size="8.6" fill="#222" font-style="italic" textLength="27.84" lengthAdjust="spacingAndGlyphs"  stroke="#222" stroke-width="0.07">PDCD1</text>
<text x="152.76" y="409.3" font-size="8.6" fill="#222" font-style="italic" textLength="25.28" lengthAdjust="spacingAndGlyphs"  stroke="#222" stroke-width="0.07">FOSL2</text>
<text transform="translate(27.19,379.93) rotate(-90)" font-size="9.09" textLength="56.95" lengthAdjust="spacingAndGlyphs" fill="#222" >Expression level</text>
<rect x="55.7" y="347.8" width="2.8" height="2.8" fill="#1f3f80" />
<rect x="59.8" y="349.1" width="2.8" height="2.8" fill="#1f3f80" />
<rect x="55.4" y="350.8" width="2.8" height="2.8" fill="#1f3f80" />
<rect x="60.4" y="350.8" width="2.8" height="2.8" fill="#1f3f80" />
<rect x="55.4" y="352.7" width="2.8" height="2.8" fill="#1f3f80" />
<rect x="60.7" y="353" width="2.8" height="2.8" fill="#1f3f80" />
<rect x="58.2" y="354.6" width="2.8" height="2.8" fill="#1f3f80" />
<rect x="57.1" y="356.6" width="2.8" height="2.8" fill="#1f3f80" />
<rect x="58.7" y="356.3" width="2.8" height="2.8" fill="#1f3f80" />
<line x1="55.5" y1="353.5" x2="63.5" y2="353.5" stroke="#000" stroke-width="1.15" />
<line x1="59.5" y1="350" x2="59.5" y2="356.6" stroke="#000" stroke-width="0.9" />
<line x1="57.8" y1="350" x2="61.2" y2="350" stroke="#000" stroke-width="0.9" />
<line x1="57.8" y1="356.6" x2="61.2" y2="356.6" stroke="#000" stroke-width="0.9" />
<circle cx="72" cy="332.4" r="1.7" fill="#a90633"/>
<circle cx="69.5" cy="336.5" r="1.7" fill="#a90633"/>
<circle cx="74.4" cy="336.8" r="1.7" fill="#a90633"/>
<circle cx="68.9" cy="339.3" r="1.7" fill="#a90633"/>
<circle cx="73.9" cy="341.2" r="1.7" fill="#a90633"/>
<circle cx="69.5" cy="341.7" r="1.7" fill="#a90633"/>
<circle cx="69.5" cy="344.5" r="1.7" fill="#a90633"/>
<circle cx="73.9" cy="343.9" r="1.7" fill="#a90633"/>
<circle cx="71.7" cy="345.6" r="1.7" fill="#a90633"/>
<circle cx="74.2" cy="348" r="1.7" fill="#a90633"/>
<circle cx="69.8" cy="350" r="1.7" fill="#a90633"/>
<line x1="67.75" y1="342.4" x2="76.05" y2="342.4" stroke="#000" stroke-width="1.15" />
<line x1="71.9" y1="337.3" x2="71.9" y2="346.4" stroke="#000" stroke-width="0.9" />
<line x1="70.2" y1="337.3" x2="73.6" y2="337.3" stroke="#000" stroke-width="0.9" />
<line x1="70.2" y1="346.4" x2="73.6" y2="346.4" stroke="#000" stroke-width="0.9" />
<line x1="59.5" y1="326.4" x2="71.8" y2="326.4" stroke="#222" stroke-width="0.9" />
<line x1="65.65" y1="319.35" x2="65.65" y2="321.85" stroke="#111" stroke-width="0.75" />
<line x1="64.57" y1="319.98" x2="66.73" y2="321.23" stroke="#111" stroke-width="0.75" />
<line x1="66.73" y1="319.98" x2="64.57" y2="321.23" stroke="#111" stroke-width="0.75" />
<rect x="90.8" y="341.7" width="2.8" height="2.8" fill="#1f3f80" />
<rect x="89.3" y="343.3" width="2.8" height="2.8" fill="#1f3f80" />
<rect x="93.4" y="343" width="2.8" height="2.8" fill="#1f3f80" />
<rect x="88.5" y="345.4" width="2.8" height="2.8" fill="#1f3f80" />
<rect x="93.7" y="345.4" width="2.8" height="2.8" fill="#1f3f80" />
<rect x="90.3" y="346.9" width="2.8" height="2.8" fill="#1f3f80" />
<rect x="91.9" y="346.4" width="2.8" height="2.8" fill="#1f3f80" />
<rect x="89.8" y="348" width="2.8" height="2.8" fill="#1f3f80" />
<line x1="88.4" y1="346.5" x2="96.6" y2="346.5" stroke="#000" stroke-width="1.15" />
<line x1="92.5" y1="345.3" x2="92.5" y2="347.7" stroke="#000" stroke-width="0.9" />
<line x1="90.8" y1="345.3" x2="94.2" y2="345.3" stroke="#000" stroke-width="0.9" />
<line x1="90.8" y1="347.7" x2="94.2" y2="347.7" stroke="#000" stroke-width="0.9" />
<circle cx="102.6" cy="333.3" r="1.7" fill="#a90633"/>
<circle cx="107" cy="331.7" r="1.7" fill="#a90633"/>
<circle cx="107.8" cy="333.3" r="1.7" fill="#a90633"/>
<circle cx="102.1" cy="337.9" r="1.7" fill="#a90633"/>
<circle cx="104.2" cy="336.4" r="1.7" fill="#a90633"/>
<circle cx="107.8" cy="337.9" r="1.7" fill="#a90633"/>
<circle cx="103.1" cy="340" r="1.7" fill="#a90633"/>
<circle cx="106.8" cy="340" r="1.7" fill="#a90633"/>
<circle cx="105" cy="341.6" r="1.7" fill="#a90633"/>
<line x1="101" y1="337.4" x2="108.8" y2="337.4" stroke="#000" stroke-width="1.15" />
<line x1="104.9" y1="334.3" x2="104.9" y2="340.5" stroke="#000" stroke-width="0.9" />
<line x1="103.2" y1="334.3" x2="106.6" y2="334.3" stroke="#000" stroke-width="0.9" />
<line x1="103.2" y1="340.5" x2="106.6" y2="340.5" stroke="#000" stroke-width="0.9" />
<line x1="92.6" y1="326.5" x2="105" y2="326.5" stroke="#222" stroke-width="0.9" />
<line x1="98.8" y1="319.15" x2="98.8" y2="321.65" stroke="#111" stroke-width="0.75" />
<line x1="97.72" y1="319.77" x2="99.88" y2="321.02" stroke="#111" stroke-width="0.75" />
<line x1="99.88" y1="319.77" x2="97.72" y2="321.02" stroke="#111" stroke-width="0.75" />
<rect x="124.2" y="371.1" width="2.8" height="2.8" fill="#1f3f80" />
<rect x="124.2" y="374.9" width="2.8" height="2.8" fill="#1f3f80" />
<rect x="124.2" y="377.4" width="2.8" height="2.8" fill="#1f3f80" />
<rect x="121.7" y="383.6" width="2.8" height="2.8" fill="#1f3f80" />
<rect x="123.6" y="384.9" width="2.8" height="2.8" fill="#1f3f80" />
<rect x="126.1" y="387.4" width="2.8" height="2.8" fill="#1f3f80" />
<rect x="127.4" y="386.7" width="2.8" height="2.8" fill="#1f3f80" />
<line x1="121.85" y1="382.5" x2="129.95" y2="382.5" stroke="#000" stroke-width="1.15" />
<line x1="125.9" y1="375.6" x2="125.9" y2="389.4" stroke="#000" stroke-width="0.9" />
<line x1="124.2" y1="375.6" x2="127.6" y2="375.6" stroke="#000" stroke-width="0.9" />
<line x1="124.2" y1="389.4" x2="127.6" y2="389.4" stroke="#000" stroke-width="0.9" />
<circle cx="138.1" cy="350.6" r="1.7" fill="#a90633"/>
<circle cx="136.3" cy="362.5" r="1.7" fill="#a90633"/>
<circle cx="140" cy="361.3" r="1.7" fill="#a90633"/>
<circle cx="135.6" cy="365.6" r="1.7" fill="#a90633"/>
<circle cx="139.4" cy="365" r="1.7" fill="#a90633"/>
<circle cx="135.6" cy="368.8" r="1.7" fill="#a90633"/>
<circle cx="140" cy="370" r="1.7" fill="#a90633"/>
<circle cx="138.1" cy="375" r="1.7" fill="#a90633"/>
<circle cx="135.6" cy="378.1" r="1.7" fill="#a90633"/>
<circle cx="140.6" cy="378.8" r="1.7" fill="#a90633"/>
<circle cx="135.6" cy="385" r="1.7" fill="#a90633"/>
<circle cx="140" cy="383.1" r="1.7" fill="#a90633"/>
<line x1="133.75" y1="371.5" x2="142.25" y2="371.5" stroke="#000" stroke-width="1.15" />
<line x1="138" y1="362" x2="138" y2="381" stroke="#000" stroke-width="0.9" />
<line x1="136.3" y1="362" x2="139.7" y2="362" stroke="#000" stroke-width="0.9" />
<line x1="136.3" y1="381" x2="139.7" y2="381" stroke="#000" stroke-width="0.9" />
<line x1="126.2" y1="344.2" x2="138.2" y2="344.2" stroke="#222" stroke-width="0.9" />
<line x1="132.2" y1="336.65" x2="132.2" y2="339.15" stroke="#111" stroke-width="0.75" />
<line x1="131.12" y1="337.27" x2="133.28" y2="338.52" stroke="#111" stroke-width="0.75" />
<line x1="133.28" y1="337.27" x2="131.12" y2="338.52" stroke="#111" stroke-width="0.75" />
<rect x="155.2" y="324.6" width="2.8" height="2.8" fill="#1f3f80" />
<rect x="159.3" y="327.6" width="2.8" height="2.8" fill="#1f3f80" />
<rect x="154.6" y="330.8" width="2.8" height="2.8" fill="#1f3f80" />
<rect x="159" y="330.8" width="2.8" height="2.8" fill="#1f3f80" />
<rect x="154.6" y="332.6" width="2.8" height="2.8" fill="#1f3f80" />
<rect x="159.3" y="332.6" width="2.8" height="2.8" fill="#1f3f80" />
<rect x="157.3" y="334.1" width="2.8" height="2.8" fill="#1f3f80" />
<line x1="154.8" y1="331.6" x2="162.5" y2="331.6" stroke="#000" stroke-width="1.15" />
<line x1="158.65" y1="328" x2="158.65" y2="335.5" stroke="#000" stroke-width="0.9" />
<line x1="156.95" y1="328" x2="160.35" y2="328" stroke="#000" stroke-width="0.9" />
<line x1="156.95" y1="335.5" x2="160.35" y2="335.5" stroke="#000" stroke-width="0.9" />
<circle cx="169.4" cy="311.4" r="1.7" fill="#a90633"/>
<circle cx="173.3" cy="310.5" r="1.7" fill="#a90633"/>
<circle cx="167.6" cy="316.1" r="1.7" fill="#a90633"/>
<circle cx="173.6" cy="315.8" r="1.7" fill="#a90633"/>
<circle cx="169.1" cy="317.6" r="1.7" fill="#a90633"/>
<circle cx="173.9" cy="318.8" r="1.7" fill="#a90633"/>
<circle cx="168.5" cy="324.2" r="1.7" fill="#a90633"/>
<circle cx="173.6" cy="323" r="1.7" fill="#a90633"/>
<circle cx="168.5" cy="328.1" r="1.7" fill="#a90633"/>
<circle cx="173.6" cy="328.1" r="1.7" fill="#a90633"/>
<circle cx="171.2" cy="331" r="1.7" fill="#a90633"/>
<line x1="167.3" y1="320.6" x2="175" y2="320.6" stroke="#000" stroke-width="1.15" />
<line x1="171.15" y1="314.3" x2="171.15" y2="327.2" stroke="#000" stroke-width="0.9" />
<line x1="169.45" y1="314.3" x2="172.85" y2="314.3" stroke="#000" stroke-width="0.9" />
<line x1="169.45" y1="327.2" x2="172.85" y2="327.2" stroke="#000" stroke-width="0.9" />
<line x1="158.9" y1="307.2" x2="171.2" y2="307.2" stroke="#222" stroke-width="0.9" />
<line x1="165.05" y1="300.15" x2="165.05" y2="302.65" stroke="#111" stroke-width="0.75" />
<line x1="163.97" y1="300.77" x2="166.13" y2="302.02" stroke="#111" stroke-width="0.75" />
<line x1="166.13" y1="300.77" x2="163.97" y2="302.02" stroke="#111" stroke-width="0.75" />
<rect x="173" y="373.7" width="3.1" height="3.2" fill="#1f3f80" />
<text x="179.09" y="377.9" font-size="8.6" fill="#222" textLength="19.63" lengthAdjust="spacingAndGlyphs"  stroke="#222" stroke-width="0.07">NBM</text>
<circle cx="174.6" cy="385.5" r="1.75" fill="#a90633"/>
<text x="179.8" y="388.3" font-size="8.6" fill="#222" textLength="17.16" lengthAdjust="spacingAndGlyphs"  stroke="#222" stroke-width="0.07">AML</text>
<text x="215.11" y="292.9" font-size="13.04" font-weight="bold" textLength="7.43" lengthAdjust="spacingAndGlyphs" >F</text>
<line x1="258.6" y1="303.1" x2="258.6" y2="396.7" stroke="#111" stroke-width="1.2" />
<line x1="258" y1="396.2" x2="321.5" y2="396.2" stroke="#111" stroke-width="1.2" />
<line x1="255.8" y1="305.4" x2="258.7" y2="305.4" stroke="#111" stroke-width="0.9" />
<text x="240.11" y="308.6" font-size="9.2" fill="#222" textLength="12.82" lengthAdjust="spacingAndGlyphs"  stroke="#222" stroke-width="0.07">1.0</text>
<line x1="255.8" y1="351.2" x2="258.7" y2="351.2" stroke="#111" stroke-width="0.9" />
<text x="240.44" y="354.4" font-size="9.2" fill="#222" textLength="12.52" lengthAdjust="spacingAndGlyphs"  stroke="#222" stroke-width="0.07">0.5</text>
<line x1="255.8" y1="396" x2="258.7" y2="396" stroke="#111" stroke-width="0.9" />
<text x="240.44" y="399.2" font-size="9.2" fill="#222" textLength="12.47" lengthAdjust="spacingAndGlyphs"  stroke="#222" stroke-width="0.07">0.0</text>
<line x1="287.3" y1="396" x2="287.3" y2="398.8" stroke="#111" stroke-width="0.8" />
<text x="274.97" y="409.8" font-size="8.6" fill="#222" font-style="italic" textLength="24.57" lengthAdjust="spacingAndGlyphs"  stroke="#222" stroke-width="0.07">FOSL2</text>
<text transform="translate(233.43,379.76) rotate(-90)" font-size="8.45" textLength="61.02" lengthAdjust="spacingAndGlyphs" fill="#222" >Methylation level</text>
<line x1="274.9" y1="352.3" x2="274.9" y2="364.2" stroke="#111" stroke-width="0.8" />
<line x1="271" y1="352.3" x2="278.6" y2="352.3" stroke="#111" stroke-width="0.9" />
<line x1="271" y1="364.2" x2="278.6" y2="364.2" stroke="#111" stroke-width="0.9" />
<rect x="266.7" y="355.2" width="16.4" height="8.1" fill="#2b4f8f" rx="0.6"/>
<line x1="267" y1="358.6" x2="282.8" y2="358.6" stroke="#000" stroke-width="1.1" />
<line x1="300.1" y1="378.3" x2="300.1" y2="391.2" stroke="#111" stroke-width="0.8" />
<line x1="296" y1="378.3" x2="303.7" y2="378.3" stroke="#111" stroke-width="0.9" />
<line x1="296" y1="391.2" x2="303.7" y2="391.2" stroke="#111" stroke-width="0.9" />
<rect x="291.7" y="381.2" width="16.8" height="8.4" fill="#a90633" rx="0.6"/>
<line x1="292" y1="386.3" x2="308.2" y2="386.3" stroke="#000" stroke-width="1.1" />
<line x1="275.3" y1="343.6" x2="300" y2="343.6" stroke="#222" stroke-width="0.9" />
<line x1="287.5" y1="336.55" x2="287.5" y2="339.05" stroke="#111" stroke-width="0.75" />
<line x1="286.42" y1="337.18" x2="288.58" y2="338.43" stroke="#111" stroke-width="0.75" />
<line x1="288.58" y1="337.18" x2="286.42" y2="338.43" stroke="#111" stroke-width="0.75" />
<rect x="309.2" y="331.2" width="8.8" height="5.4" fill="#2b4f8f" />
<text x="320.78" y="336.6" font-size="8.6" fill="#222" textLength="19.96" lengthAdjust="spacingAndGlyphs"  stroke="#222" stroke-width="0.07">NBM</text>
<rect x="309.2" y="341.2" width="8.8" height="5.3" fill="#a90633" />
<text x="321.5" y="346.5" font-size="8.6" fill="#222" textLength="17.26" lengthAdjust="spacingAndGlyphs"  stroke="#222" stroke-width="0.07">AML</text>
<text x="355.48" y="293" font-size="13.14" font-weight="bold" textLength="10.14" lengthAdjust="spacingAndGlyphs" >G</text>
<line x1="400.2" y1="294.3" x2="400.2" y2="396.9" stroke="#111" stroke-width="1.3" />
<line x1="399.6" y1="396.3" x2="498.5" y2="396.3" stroke="#111" stroke-width="1.2" />
<line x1="397.2" y1="296.9" x2="400.2" y2="296.9" stroke="#111" stroke-width="0.9" />
<text x="382.46" y="299.8" font-size="9.2" fill="#222" textLength="11.78" lengthAdjust="spacingAndGlyphs"  stroke="#222" stroke-width="0.07">1.5</text>
<line x1="397.2" y1="330" x2="400.2" y2="330" stroke="#111" stroke-width="0.9" />
<text x="382.47" y="332.9" font-size="9.2" fill="#222" textLength="11.73" lengthAdjust="spacingAndGlyphs"  stroke="#222" stroke-width="0.07">1.0</text>
<line x1="397.2" y1="363.1" x2="400.2" y2="363.1" stroke="#111" stroke-width="0.9" />
<text x="382.77" y="366" font-size="9.2" fill="#222" textLength="11.46" lengthAdjust="spacingAndGlyphs"  stroke="#222" stroke-width="0.07">0.5</text>
<line x1="397.2" y1="396.2" x2="400.2" y2="396.2" stroke="#111" stroke-width="0.9" />
<text x="382.77" y="399.1" font-size="9.2" fill="#222" textLength="11.42" lengthAdjust="spacingAndGlyphs"  stroke="#222" stroke-width="0.07">0.0</text>
<text transform="translate(376.15,389.13) rotate(-90)" font-size="9.3" textLength="88.13" lengthAdjust="spacingAndGlyphs" fill="#222" >Relative gene expression</text>
<line x1="409.8" y1="332" x2="409.8" y2="321.8" stroke="#444" stroke-width="0.9" />
<line x1="407" y1="321.8" x2="413.6" y2="321.8" stroke="#444" stroke-width="0.9" />
<rect x="403.1" y="332" width="13.4" height="64.2" fill="#a5092f" />
<line x1="423.75" y1="356" x2="423.75" y2="350.6" stroke="#444" stroke-width="0.9" />
<line x1="420.2" y1="350.6" x2="427.6" y2="350.6" stroke="#444" stroke-width="0.9" />
<rect x="417.2" y="356" width="13.1" height="40.2" fill="#2b4a84" />
<line x1="442.15" y1="316.6" x2="442.15" y2="302.8" stroke="#444" stroke-width="0.9" />
<line x1="438.2" y1="302.8" x2="445.8" y2="302.8" stroke="#444" stroke-width="0.9" />
<rect x="435.4" y="316.6" width="13.5" height="79.6" fill="#a5092f" />
<line x1="455.9" y1="333.8" x2="455.9" y2="332.3" stroke="#444" stroke-width="0.9" />
<line x1="452.3" y1="332.3" x2="459.2" y2="332.3" stroke="#444" stroke-width="0.9" />
<rect x="449.5" y="333.8" width="12.8" height="62.4" fill="#2b4a84" />
<line x1="474.15" y1="343.4" x2="474.15" y2="338.9" stroke="#444" stroke-width="0.9" />
<line x1="471.5" y1="338.9" x2="477.7" y2="338.9" stroke="#444" stroke-width="0.9" />
<rect x="467.5" y="343.4" width="13.3" height="52.8" fill="#a5092f" />
<line x1="488.05" y1="360.3" x2="488.05" y2="358.2" stroke="#444" stroke-width="0.9" />
<line x1="484.6" y1="358.2" x2="491.5" y2="358.2" stroke="#444" stroke-width="0.9" />
<rect x="481.5" y="360.3" width="13.1" height="35.9" fill="#2b4a84" />
<line x1="400.8" y1="330.45" x2="504.3" y2="330.45" stroke="#1a1a1a" stroke-width="1" stroke-dasharray="3.4 2.1"/>
<line x1="423.8" y1="339.55" x2="423.8" y2="342.05" stroke="#111" stroke-width="0.75" />
<line x1="422.72" y1="340.18" x2="424.88" y2="341.43" stroke="#111" stroke-width="0.75" />
<line x1="424.88" y1="340.18" x2="422.72" y2="341.43" stroke="#111" stroke-width="0.75" />
<line x1="474.2" y1="332.55" x2="474.2" y2="335.05" stroke="#111" stroke-width="0.75" />
<line x1="473.12" y1="333.18" x2="475.28" y2="334.43" stroke="#111" stroke-width="0.75" />
<line x1="475.28" y1="333.18" x2="473.12" y2="334.43" stroke="#111" stroke-width="0.75" />
<line x1="488" y1="348.25" x2="488" y2="350.75" stroke="#111" stroke-width="0.75" />
<line x1="486.92" y1="348.88" x2="489.08" y2="350.12" stroke="#111" stroke-width="0.75" />
<line x1="489.08" y1="348.88" x2="486.92" y2="350.12" stroke="#111" stroke-width="0.75" />
<text x="404.44" y="406.6" font-size="8.6" fill="#222" font-style="italic" textLength="25.46" lengthAdjust="spacingAndGlyphs"  stroke="#222" stroke-width="0.07">DOTIL</text>
<text x="434.26" y="406.6" font-size="8.6" fill="#222" font-style="italic" textLength="30.07" lengthAdjust="spacingAndGlyphs"  stroke="#222" stroke-width="0.07">ZBTB7A</text>
<text x="467.45" y="406.6" font-size="8.6" fill="#222" font-style="italic" textLength="27.84" lengthAdjust="spacingAndGlyphs"  stroke="#222" stroke-width="0.07">PDCD1</text>
<text x="467.54" y="304.3" font-size="7.9" fill="#222" textLength="29.06" lengthAdjust="spacingAndGlyphs"  stroke="#222" stroke-width="0.07">Time(hr)</text>
<rect x="462.8" y="310.8" width="4.1" height="3.8" fill="#a5092f" />
<text x="469.7" y="314.8" font-size="8.1" fill="#222" textLength="8.86" lengthAdjust="spacingAndGlyphs"  stroke="#222" stroke-width="0.07">24</text>
<rect x="484.3" y="310.8" width="4.2" height="3.8" fill="#2b4a84" />
<text x="491.13" y="314.8" font-size="8.1" fill="#222" textLength="9.22" lengthAdjust="spacingAndGlyphs"  stroke="#222" stroke-width="0.07">48</text>
<text x="7.32" y="437.7" font-size="12.61" font-weight="bold" textLength="9.18" lengthAdjust="spacingAndGlyphs" >H</text>
<rect x="113.4" y="443.5" width="130.7" height="97.8" rx="10.5" fill="none" stroke="#7d8ec0" stroke-width="1" stroke-dasharray="3.2 2.2"/>
<rect x="64.5" y="561.8" width="170.8" height="50.2" rx="7" fill="none" stroke="#7d8ec0" stroke-width="1" stroke-dasharray="3.2 2.2"/>
<rect x="21.1" y="469.2" width="66.9" height="21.1" fill="#5b2468" rx="2.2"/>
<text x="28.13" y="482.1" font-size="7.2" fill="#fff" textLength="52.65" lengthAdjust="spacingAndGlyphs"  stroke="#fff" stroke-width="0.07">DNA methylation</text>
<line x1="54.6" y1="504.3" x2="54.6" y2="498.84" stroke="#000" stroke-width="0.75" />
<polygon points="54.6,495 56.9,499.8 52.3,499.8" fill="#000" />
<rect x="21.5" y="504.5" width="66.3" height="9.6" fill="#fff" stroke="#333" stroke-width="0.7"/>
<text x="24" y="511.8" font-size="7.5" fill="#111" textLength="61.84" lengthAdjust="spacingAndGlyphs"  stroke="#111" stroke-width="0.07">ANTICORRELATION</text>
<line x1="54.6" y1="514.1" x2="54.6" y2="519.46" stroke="#000" stroke-width="0.75" />
<polygon points="54.6,523.3 52.3,518.5 56.9,518.5" fill="#000" />
<ellipse cx="54.6" cy="543.1" rx="34.7" ry="14.8" fill="#5b9bd5"/>
<text x="33.76" y="541.1" font-size="7.2" fill="#fff" textLength="41.73" lengthAdjust="spacingAndGlyphs"  stroke="#fff" stroke-width="0.07">Gain of CTCF</text>
<text x="31.34" y="548.6" font-size="7.2" fill="#fff" textLength="46.48" lengthAdjust="spacingAndGlyphs"  stroke="#fff" stroke-width="0.07">binding in AML</text>
<line x1="89.3" y1="542.9" x2="107.92" y2="532.21" stroke="#000" stroke-width="0.85" />
<polygon points="110.9,530.5 108.17,534.38 106.18,530.91" fill="#000" />
<line x1="89.3" y1="542.9" x2="106.62" y2="555.48" stroke="#000" stroke-width="0.85" />
<polygon points="109.4,557.5 104.75,556.59 107.1,553.35" fill="#000" />
<rect x="149" y="447.3" width="84.1" height="17.2" fill="#e6b325" rx="3"/>
<text x="172.25" y="454.6" font-size="7.2" fill="#111" textLength="37.41" lengthAdjust="spacingAndGlyphs"  stroke="#111" stroke-width="0.07">Myeloid TFs</text>
<text x="151.64" y="462.3" font-size="7.2" fill="#111" textLength="78.16" lengthAdjust="spacingAndGlyphs"  stroke="#111" stroke-width="0.07">e.g. CEBPA, RUNX1, PU.1</text>
<ellipse cx="136" cy="479.9" rx="15.9" ry="8" fill="#a50e2d"/>
<text x="127.48" y="482.4" font-size="7.2" fill="#fff" textLength="17.08" lengthAdjust="spacingAndGlyphs"  stroke="#fff" stroke-width="0.07">CTCF</text>
<line x1="154.3" y1="482.4" x2="180.74" y2="491.87" stroke="#a50e2d" stroke-width="0.9" />
<polygon points="183.6,492.9 179.42,493.31 180.63,489.92" fill="#a50e2d" />
<line x1="190.9" y1="466.8" x2="190.9" y2="489.06" stroke="#a50e2d" stroke-width="0.9" />
<polygon points="190.9,492.1 189.1,488.3 192.7,488.3" fill="#a50e2d" />
<rect x="204.4" y="467.4" width="35.6" height="14.1" fill="#6b7fb6" rx="2.5"/>
<text x="207.2" y="474.2" font-size="7" fill="#fff" textLength="30.05" lengthAdjust="spacingAndGlyphs"  stroke="#fff" stroke-width="0.07">Activating</text>
<text x="216.57" y="480.2" font-size="7" fill="#fff" textLength="10.96" lengthAdjust="spacingAndGlyphs"  stroke="#fff" stroke-width="0.07">TFs</text>
<line x1="208.2" y1="485" x2="201.11" y2="490.45" stroke="#a50e2d" stroke-width="0.9" />
<polygon points="198.7,492.3 200.62,488.56 202.81,491.41" fill="#a50e2d" />
<line x1="165.8" y1="496.9" x2="224.6" y2="496.9" stroke="#000" stroke-width="1" />
<rect x="183.6" y="497.3" width="16.3" height="8.9" fill="#fff" stroke="#333" stroke-width="0.7"/>
<text x="185.59" y="504.4" font-size="7" fill="#111" textLength="12.9" lengthAdjust="spacingAndGlyphs"  stroke="#111" stroke-width="0.07">CBS</text>
<polyline points="207.9,496.9 207.9,489.8 237,489.8" fill="none" stroke="#000" stroke-width="0.95"/>
<polygon points="240.5,489.8 236.3,491.9 236.3,487.7" fill="#000" />
<polyline points="207.9,497.2 207.9,504.1 237.5,504.1" fill="none" stroke="#777" stroke-width="0.55"/>
<polygon points="239.4,504.1 237,505.2 237,503" fill="#000" />
<rect x="204" y="515.5" width="36" height="14.5" fill="#6b7fb6" rx="2.5"/>
<text x="205.07" y="522.3" font-size="7" fill="#fff" textLength="33.58" lengthAdjust="spacingAndGlyphs"  stroke="#fff" stroke-width="0.07">Repressing</text>
<text x="217.69" y="527.9" font-size="7" fill="#fff" textLength="9.2" lengthAdjust="spacingAndGlyphs"  stroke="#fff" stroke-width="0.07">TFs</text>
<line x1="212.5" y1="514.2" x2="204.78" y2="508.09" stroke="#a50e2d" stroke-width="0.9" />
<polygon points="202.4,506.2 206.5,507.15 204.26,509.97" fill="#a50e2d" />
<text x="117.29" y="527.8" font-size="7.2" fill="#111" textLength="37.12" lengthAdjust="spacingAndGlyphs"  stroke="#111" stroke-width="0.07">PROMOTER</text>
<text x="123.07" y="535.8" font-size="7.2" fill="#111" textLength="26.16" lengthAdjust="spacingAndGlyphs"  stroke="#111" stroke-width="0.07">REGION</text>
<rect x="247.1" y="476.6" width="41.8" height="18.7" fill="#a50e2d" rx="3"/>
<text x="259.77" y="484.9" font-size="7.2" fill="#fff" textLength="16.24" lengthAdjust="spacingAndGlyphs"  stroke="#fff" stroke-width="0.07">Gene</text>
<text x="248.75" y="490.6" font-size="7.2" fill="#fff" textLength="38.51" lengthAdjust="spacingAndGlyphs"  stroke="#fff" stroke-width="0.07">upregulation</text>
<rect x="245.9" y="500.2" width="49.2" height="18.5" fill="#2c4a80" rx="3"/>
<text x="261.86" y="508.8" font-size="7.2" fill="#fff" textLength="16.76" lengthAdjust="spacingAndGlyphs"  stroke="#fff" stroke-width="0.07">Gene</text>
<text x="246.82" y="514.8" font-size="7.2" fill="#fff" textLength="47.46" lengthAdjust="spacingAndGlyphs"  stroke="#fff" stroke-width="0.07">downregulation</text>
<text x="69.29" y="569.8" font-size="7" fill="#111" textLength="21.71" lengthAdjust="spacingAndGlyphs"  stroke="#111" stroke-width="0.07">DISTAL</text>
<text x="67.47" y="577.6" font-size="7" fill="#111" textLength="26.16" lengthAdjust="spacingAndGlyphs"  stroke="#111" stroke-width="0.07">REGION</text>
<ellipse cx="160.3" cy="571.3" rx="15.95" ry="7.95" fill="#a50e2d"/>
<text x="151.27" y="573.5" font-size="7.2" fill="#fff" textLength="17.81" lengthAdjust="spacingAndGlyphs"  stroke="#fff" stroke-width="0.07">CTCF</text>
<line x1="160.5" y1="580.9" x2="160.5" y2="589.1" stroke="#a50e2d" stroke-width="0.9" />
<polygon points="160.5,592.3 158.3,588.3 162.7,588.3" fill="#a50e2d" />
<rect x="66.4" y="589.4" width="40.8" height="11.9" fill="#fff" rx="2.5" stroke="#7d8ec0" stroke-width="0.9"/>
<text x="68.17" y="597.8" font-size="7" fill="#111" textLength="36.83" lengthAdjust="spacingAndGlyphs"  stroke="#111" stroke-width="0.07">ENHANCER</text>
<line x1="108" y1="595.3" x2="119.7" y2="595.3" stroke="#000" stroke-width="1" stroke-dasharray="2.4 2.2"/>
<line x1="119.7" y1="595.4" x2="189.2" y2="595.4" stroke="#000" stroke-width="1" />
<line x1="191.4" y1="595.6" x2="200" y2="595.6" stroke="#000" stroke-width="1" stroke-dasharray="3.4 2"/>
<rect x="151.3" y="596" width="17.3" height="9.4" fill="#fff" stroke="#333" stroke-width="0.7"/>
<text x="153.48" y="602.7" font-size="7" fill="#111" textLength="13.22" lengthAdjust="spacingAndGlyphs"  stroke="#111" stroke-width="0.07">CBS</text>
<rect x="200.2" y="589.6" width="30.7" height="11.9" fill="#fff" rx="2.2" stroke="#7d8ec0" stroke-width="0.9"/>
<text x="205.87" y="597.7" font-size="7" fill="#111" textLength="18.51" lengthAdjust="spacingAndGlyphs"  stroke="#111" stroke-width="0.07">GENE</text>
<line x1="232.3" y1="595.7" x2="240.1" y2="595.7" stroke="#000" stroke-width="1" />
<polygon points="243.3,595.7 239.3,597.7 239.3,593.7" fill="#000" />
<line x1="232.5" y1="591.2" x2="241.67" y2="581.26" stroke="#000" stroke-width="0.6" />
<polygon points="243.3,579.5 242.22,582.59 240.31,580.82" fill="#000" />
<rect x="247.1" y="566.2" width="41.8" height="18.6" fill="#a50e2d" rx="3"/>
<text x="259.77" y="574.5" font-size="7.2" fill="#fff" textLength="16.24" lengthAdjust="spacingAndGlyphs"  stroke="#fff" stroke-width="0.07">Gene</text>
<text x="248.75" y="580.5" font-size="7.2" fill="#fff" textLength="38.51" lengthAdjust="spacingAndGlyphs"  stroke="#fff" stroke-width="0.07">upregulation</text>
<rect x="245.9" y="589.5" width="49.2" height="18.7" fill="#2c4a80" rx="3"/>
<text x="261.86" y="597.8" font-size="7.2" fill="#fff" textLength="16.76" lengthAdjust="spacingAndGlyphs"  stroke="#fff" stroke-width="0.07">Gene</text>
<text x="246.82" y="604.4" font-size="7.2" fill="#fff" textLength="47.46" lengthAdjust="spacingAndGlyphs"  stroke="#fff" stroke-width="0.07">downregulation</text>
<rect x="0" y="0" width="520" height="1" fill="#000" />
<rect x="0" y="618.9" width="520" height="1.1" fill="#000" />
<rect x="0" y="0" width="1.15" height="620" fill="#000" />
<rect x="518.85" y="0" width="1.15" height="620" fill="#000" />
</svg>
</body></html>
